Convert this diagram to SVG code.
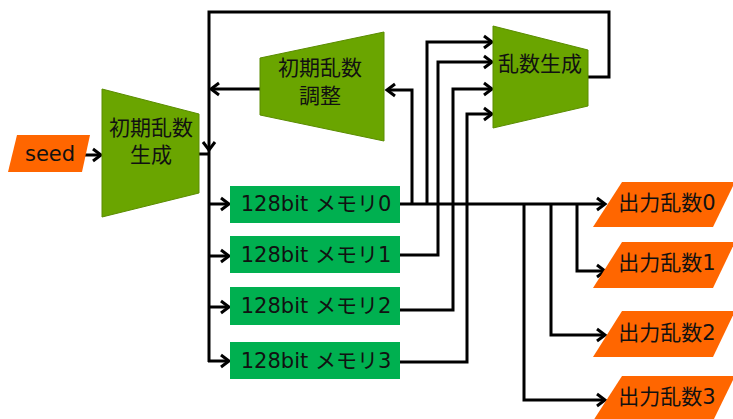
<svg xmlns="http://www.w3.org/2000/svg" width="733" height="419" viewBox="0 0 733 419">
<style>
.t{font-family:"DejaVu Sans","Noto Sans CJK JP",sans-serif;font-size:21px;fill:#111;text-anchor:middle;dominant-baseline:central}
.trap{fill:#6aa500;stroke:#5a8c00;stroke-width:1}
.mem{fill:#00b050}
.io{fill:#ff6600}
.c{fill:none;stroke:#000;stroke-width:3}
.a{marker-end:url(#ah)}
</style>
<defs>
<marker id="ah" markerUnits="userSpaceOnUse" markerWidth="14" markerHeight="16" refX="10" refY="8" orient="auto" viewBox="0 0 14 16">
<path d="M2,2 L10,8 L2,14" fill="none" stroke="#000" stroke-width="3"/>
</marker>
</defs>
<g id="connectors">
<path class="c a" d="M82,155 H101"/>
<path class="c" d="M199,154 H209"/>
<path class="c a" d="M588,77 H609 V12 H209 V150"/>
<path class="c" d="M209,148 V362"/>
<path class="c a" d="M260,89 H211"/>
<path class="c a" d="M412,204 V90 H387"/>
<path class="c a" d="M209,204 H229"/>
<path class="c a" d="M209,256 H229"/>
<path class="c a" d="M209,307 H229"/>
<path class="c a" d="M208,361 H229"/>
<path class="c a" d="M400,204 H605"/>
<path class="c a" d="M427,204 V42 H492"/>
<path class="c a" d="M400,255 H438 V62 H492"/>
<path class="c a" d="M400,310 H453 V89 H492"/>
<path class="c a" d="M400,362 H467 V114 H492"/>
<path class="c a" d="M577,204 V271 H605"/>
<path class="c a" d="M551,204 V335 H605"/>
<path class="c a" d="M524,204 V400 H605"/>
</g>
<g id="seed">
<polygon class="io" points="17,135 90,135 82,172 8,172"/>
<text class="t" x="50" y="154">seed</text>
</g>
<g id="init-gen">
<polygon class="trap" points="102,89 199,114 199,193 102,217"/>
<text class="t" x="151" y="128">初期乱数</text>
<text class="t" x="151" y="155">生成</text>
</g>
<g id="init-adjust">
<polygon class="trap" points="260,58 384,32 384,141 260,115"/>
<text class="t" x="320" y="68">初期乱数</text>
<text class="t" x="320" y="96">調整</text>
</g>
<g id="rng">
<polygon class="trap" points="493,26 588,50 588,106 493,128"/>
<text class="t" x="540" y="64">乱数生成</text>
</g>
<g id="mem0"><rect class="mem" x="230" y="186" width="170" height="37"/><text class="t" x="316" y="204">128bit メモリ0</text></g>
<g id="mem1"><rect class="mem" x="230" y="236" width="170" height="37"/><text class="t" x="316" y="255">128bit メモリ1</text></g>
<g id="mem2"><rect class="mem" x="230" y="287" width="170" height="38"/><text class="t" x="316" y="306">128bit メモリ2</text></g>
<g id="mem3"><rect class="mem" x="230" y="342" width="170" height="37"/><text class="t" x="316" y="361">128bit メモリ3</text></g>
<g id="out0"><polygon class="io" points="622,182 735,182 713,227 593,227"/><text class="t" x="667" y="203">出力乱数0</text></g>
<g id="out1"><polygon class="io" points="622,242 735,242 713,288 593,288"/><text class="t" x="667" y="263">出力乱数1</text></g>
<g id="out2"><polygon class="io" points="622,311 735,311 713,357 593,357"/><text class="t" x="667" y="333">出力乱数2</text></g>
<g id="out3"><polygon class="io" points="622,376 735,376 713,421 593,421"/><text class="t" x="667" y="397">出力乱数3</text></g>
</svg>
